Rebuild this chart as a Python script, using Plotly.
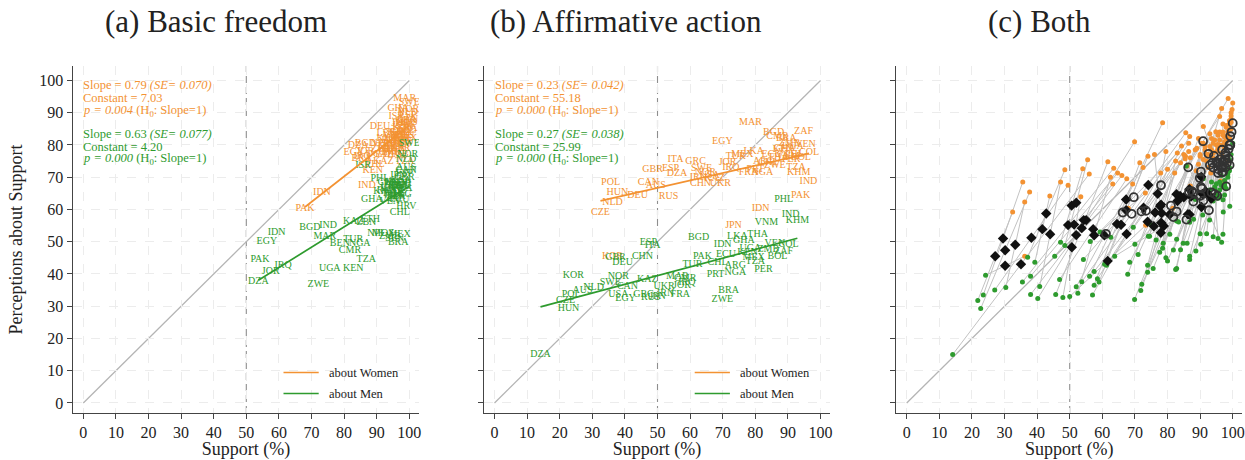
import plotly.graph_objects as go

FONT = "Liberation Serif"
ORANGE = "#f39232"
GREEN = "#2e9b2e"
INK = "#222222"

# ---------------- Basic freedom: support (%) and perceived support ----------------
bf_codes = ["DZA", "JOR", "IRQ", "PAK", "EGY", "IDN", "ZWE", "UGA", "KEN", "TZA",
            "BGD", "IND", "MAR", "BEN", "TUR", "CMR", "NGA", "KAZ", "LBN", "MEX",
            "BRA", "CHL", "HRV", "GHA", "VEN", "PHL", "ISR", "DEU", "MOZ", "ZMB",
            "SEN", "NPL", "ETH", "ZAF", "ARG", "COL", "PER", "BOL", "ECU", "USA",
            "CAN", "GBR", "FRA", "ITA", "ESP", "SWE", "NOR", "NLD", "POL", "CZE",
            "HUN", "RUS", "UKR", "CHN", "JPN", "KOR", "VNM", "THA", "KHM", "AUS"]
bf_women_support = [84.3, 86.5, 85.5, 68.0, 83.0, 73.2, 91.5, 90.0, 88.8, 98.6,
                    86.5, 87.0, 98.6, 94.5, 93.0, 94.0, 95.5, 92.0, 93.0, 99.0,
                    85.4, 97.0, 99.0, 96.6, 97.0, 89.5, 96.0, 91.0, 95.0, 96.5,
                    93.5, 91.0, 92.5, 97.5, 99.0, 98.0, 97.5, 96.0, 98.5, 98.0,
                    99.5, 99.0, 99.5, 98.5, 99.5, 100.0, 99.8, 99.5, 97.0, 98.0,
                    97.5, 95.0, 96.0, 94.0, 97.0, 98.0, 95.5, 96.0, 93.5, 99.5]
bf_women_percep = [79.7, 78.0, 76.5, 60.4, 77.5, 65.1, 78.5, 77.0, 72.0, 75.0,
                   80.5, 67.3, 94.4, 81.5, 79.5, 77.5, 79.0, 75.0, 83.5, 82.0,
                   75.7, 84.0, 86.5, 91.3, 80.0, 74.0, 88.8, 85.7, 78.0, 77.0,
                   78.5, 80.5, 77.0, 82.5, 84.5, 81.0, 79.0, 80.0, 83.0, 86.0,
                   88.0, 87.5, 85.0, 84.0, 89.0, 93.0, 91.0, 90.0, 83.0, 82.0,
                   81.0, 80.0, 81.5, 80.5, 86.5, 85.5, 83.0, 84.0, 82.0, 87.0]
bf_men_support = [53.7, 57.5, 61.3, 54.2, 56.3, 59.3, 72.1, 75.6, 82.8, 86.8,
                  69.5, 75.1, 74.1, 78.7, 82.8, 81.8, 84.8, 82.8, 86.8, 97.0,
                  96.6, 97.1, 99.1, 88.5, 94.0, 91.0, 85.8, 97.5, 92.0, 94.0,
                  95.5, 90.0, 88.0, 95.5, 97.5, 96.0, 96.0, 95.0, 97.0, 97.5,
                  99.0, 98.5, 98.0, 97.0, 98.5, 100.0, 99.5, 99.0, 95.0, 96.5,
                  96.0, 93.0, 94.5, 93.5, 96.5, 97.5, 94.5, 95.0, 92.5, 99.0]
bf_men_percep = [37.6, 40.8, 42.7, 44.5, 50.1, 53.0, 36.8, 41.7, 41.7, 44.5,
                 54.5, 55.1, 51.7, 49.5, 50.8, 47.4, 49.5, 56.4, 56.0, 52.3,
                 49.8, 59.2, 61.0, 63.2, 62.6, 69.5, 73.5, 67.5, 52.5, 51.5,
                 51.0, 52.5, 57.0, 63.5, 64.5, 66.0, 64.0, 65.0, 63.0, 69.0,
                 72.0, 70.0, 66.5, 67.0, 71.0, 80.5, 77.0, 75.5, 68.0, 67.5,
                 68.5, 66.0, 67.0, 68.5, 70.5, 68.0, 66.5, 64.5, 65.5, 73.0]

# Fitted lines (perception on support) reported for basic freedom
bf_women_slope, bf_women_se, bf_women_const, bf_women_p = 0.79, 0.070, 7.03, "0.004"
bf_men_slope, bf_men_se, bf_men_const, bf_men_p = 0.63, 0.077, 4.20, "0.000"

# ---------------- Affirmative action: support (%) and perceived support ----------------
aa_codes = ["POL", "NLD", "CZE", "HUN", "DEU", "CAN", "AUS", "GBR", "ESP", "ITA",
            "RUS", "GRC", "CHN", "NOR", "SWE", "USA", "KOR", "KAZ", "UKR", "EGY",
            "MAR", "BGD", "ZAF", "CMR", "BRA", "VEN", "FRA", "NGA", "IND", "KHM",
            "PAK", "IDN", "JPN", "PHL", "VNM", "TUR", "CHL", "PRT", "ARG", "ZWE",
            "PER", "BOL", "COL", "KEN", "MEX", "LKA", "THA", "GHA", "UGA", "TZA",
            "ZMB", "ECU", "IRN", "JOR", "IRQ", "DZA"]
aa_women_support = [35.6, 36.2, 32.5, 37.7, 43.9, 47.2, 49.5, 48.5, 54.0, 55.5,
                    53.4, 61.7, 63.2, 64.7, 63.5, 66.0, 36.2, 67.5, 69.3, 69.9,
                    78.5, 85.6, 94.8, 86.8, 89.5, 95.4, 77.9, 82.2, 96.3, 93.3,
                    93.9, 81.6, 73.3, 92.0, 90.0, 74.0, 84.0, 80.0, 82.5, 86.0,
                    91.0, 94.0, 96.5, 88.5, 76.0, 79.5, 87.0, 89.0, 91.5, 92.5,
                    90.5, 85.0, 62.5, 71.5, 72.5, 56.0]
aa_women_percep = [68.5, 62.3, 59.2, 65.4, 64.2, 68.5, 67.5, 72.3, 72.6, 75.4,
                   63.9, 74.8, 67.9, 71.3, 72.8, 70.5, 45.5, 69.5, 67.9, 81.0,
                   86.9, 83.8, 84.1, 82.6, 82.0, 80.1, 71.3, 71.3, 68.8, 71.3,
                   64.2, 60.4, 55.1, 77.0, 76.5, 76.5, 74.5, 72.5, 75.0, 73.5,
                   75.5, 76.0, 77.5, 78.5, 77.0, 78.0, 76.0, 79.0, 79.5, 73.0,
                   80.5, 77.0, 70.0, 74.5, 73.0, 71.0]
aa_men_support = [23.5, 30.4, 21.8, 22.7, 39.3, 40.8, 27.0, 37.1, 47.2, 48.5,
                  47.9, 45.7, 45.4, 38.0, 35.5, 38.0, 24.2, 46.9, 52.0, 40.2,
                  56.1, 62.6, 88.7, 58.5, 71.8, 86.0, 57.0, 73.9, 90.8, 92.9,
                  63.8, 70.0, 50.0, 88.7, 83.4, 60.7, 68.4, 67.8, 73.9, 69.9,
                  82.5, 86.8, 90.2, 77.6, 79.5, 74.5, 80.7, 76.5, 78.5, 80.0,
                  84.0, 71.0, 52.5, 57.5, 59.0, 14.1]
aa_men_percep = [33.5, 35.8, 31.8, 29.3, 43.6, 36.1, 35.0, 45.2, 49.8, 48.8,
                 32.7, 33.6, 45.5, 39.3, 37.5, 33.6, 39.6, 38.3, 36.0, 32.4,
                 39.3, 51.4, 47.1, 38.5, 34.9, 49.5, 33.5, 40.5, 58.3, 56.7,
                 45.5, 49.2, 33.0, 63.2, 56.1, 43.0, 43.6, 39.9, 42.7, 32.1,
                 41.4, 45.5, 49.2, 46.7, 45.0, 51.7, 52.3, 50.5, 48.0, 44.0,
                 47.5, 46.0, 34.0, 36.5, 37.5, 15.0]

# Fitted lines reported for affirmative action
aa_women_slope, aa_women_se, aa_women_const, aa_women_p = 0.23, 0.042, 55.18, "0.000"
aa_men_slope, aa_men_se, aa_men_const, aa_men_p = 0.27, 0.038, 25.99, "0.000"

panel_titles = ["(a) Basic freedom", "(b) Affirmative action", "(c) Both"]
ticks = [0, 10, 20, 30, 40, 50, 60, 70, 80, 90, 100]

# ---------------- layout geometry ----------------
X_RANGE = [-3.25, 103.0]
Y_RANGE = [-3.1, 104.5]
X_DOMAINS = [[0.05839, 0.33663], [0.38867, 0.66691], [0.71976, 0.99799]]
Y_DOMAIN = [0.10217, 0.85674]

fig = go.Figure()


def axis_ids(i):
    return ("x" if i == 0 else f"x{i + 1}"), ("y" if i == 0 else f"y{i + 1}")


def fit_line(xs, slope, const):
    lo, hi = min(xs), max(xs)
    return [lo, hi], [const + slope * lo, const + slope * hi]


def add_labels(i, xs, ys, codes, color):
    xa, ya = axis_ids(i)
    fig.add_trace(go.Scatter(
        x=xs, y=ys, text=codes, mode="text", xaxis=xa, yaxis=ya,
        textfont=dict(family=FONT, size=10, color=color),
        showlegend=False, hoverinfo="skip"))


def add_fit(i, xs, slope, const, color):
    xa, ya = axis_ids(i)
    lx, ly = fit_line(xs, slope, const)
    fig.add_trace(go.Scatter(
        x=lx, y=ly, mode="lines", xaxis=xa, yaxis=ya,
        line=dict(color=color, width=1.7), showlegend=False, hoverinfo="skip"))


def add_stats(i, rows):
    xa, ya = axis_ids(i)
    line_y = [98.6, 94.7, 90.6, 83.4, 79.5, 75.5]
    k = 0
    for slope, se, const, p, color in rows:
        texts = [f"Slope = {slope:.2f} <i>(SE= {se:.3f})</i>",
                 f"Constant = {const:.2f}",
                 f"<i>p = {p}</i> (H<sub>0</sub>: Slope=1)"]
        for t in texts:
            fig.add_annotation(x=-0.6, y=line_y[k], xref=xa, yref=ya, text=t,
                               showarrow=False, xanchor="left", yanchor="middle",
                               font=dict(family=FONT, size=12.5, color=color))
            k += 1


def add_legend(i):
    x_dom = X_DOMAINS[i]
    span = x_dom[1] - x_dom[0]
    x_line0 = x_dom[0] + span * (210.8 / 346.4)
    x_line1 = x_dom[0] + span * (246.0 / 346.4)
    x_text = x_dom[0] + span * (254.5 / 346.4)
    for label, color, ypx in [("about Women", ORANGE, 372.5), ("about Men", GREEN, 393.5)]:
        yp = 1 - ypx / 460
        fig.add_shape(type="line", xref="paper", yref="paper", x0=x_line0, x1=x_line1,
                      y0=yp, y1=yp, line=dict(color=color, width=1.6))
        fig.add_annotation(x=x_text, y=yp, xref="paper", yref="paper", text=label,
                           showarrow=False, xanchor="left", yanchor="middle",
                           font=dict(family=FONT, size=12.5, color=INK))


# reference lines: 45-degree line and the 50% threshold
for i in range(3):
    xa, ya = axis_ids(i)
    fig.add_shape(type="line", xref=xa, yref=ya, x0=0, y0=0, x1=100, y1=100,
                  line=dict(color="#b4b4b4", width=1.3), layer="below")
    fig.add_shape(type="line", xref=xa, yref=f"{ya} domain", x0=50, x1=50, y0=0, y1=1,
                  line=dict(color="#8e8e8e", width=1.1, dash="7px,4px"), layer="below")

# panel (a)
add_labels(0, bf_women_support, bf_women_percep, bf_codes, ORANGE)
add_labels(0, bf_men_support, bf_men_percep, bf_codes, GREEN)
add_fit(0, bf_women_support, bf_women_slope, bf_women_const, ORANGE)
add_fit(0, bf_men_support, bf_men_slope, bf_men_const, GREEN)
add_stats(0, [(bf_women_slope, bf_women_se, bf_women_const, bf_women_p, ORANGE),
              (bf_men_slope, bf_men_se, bf_men_const, bf_men_p, GREEN)])
add_legend(0)

# panel (b)
add_labels(1, aa_women_support, aa_women_percep, aa_codes, ORANGE)
add_labels(1, aa_men_support, aa_men_percep, aa_codes, GREEN)
add_fit(1, aa_women_support, aa_women_slope, aa_women_const, ORANGE)
add_fit(1, aa_men_support, aa_men_slope, aa_men_const, GREEN)
add_stats(1, [(aa_women_slope, aa_women_se, aa_women_const, aa_women_p, ORANGE),
              (aa_men_slope, aa_men_se, aa_men_const, aa_men_p, GREEN)])
add_legend(1)


# panel (c): women and men linked through the overall (mean) position
def mean_pair(a, b):
    return [(u + v) / 2 for u, v in zip(a, b)]


link_x, link_y = [], []
for wx, wy, mx, my in list(zip(bf_women_support, bf_women_percep, bf_men_support, bf_men_percep)) + \
        list(zip(aa_women_support, aa_women_percep, aa_men_support, aa_men_percep)):
    link_x += [wx, mx, None]
    link_y += [wy, my, None]

fig.add_trace(go.Scatter(x=link_x, y=link_y, mode="lines", xaxis="x3", yaxis="y3",
                         line=dict(color="#c2c2c2", width=1), showlegend=False, hoverinfo="skip"))
fig.add_trace(go.Scatter(x=bf_women_support + aa_women_support, y=bf_women_percep + aa_women_percep,
                         mode="markers", xaxis="x3", yaxis="y3",
                         marker=dict(color=ORANGE, size=5, line=dict(width=0)),
                         showlegend=False, hoverinfo="skip"))
fig.add_trace(go.Scatter(x=bf_men_support + aa_men_support, y=bf_men_percep + aa_men_percep,
                         mode="markers", xaxis="x3", yaxis="y3",
                         marker=dict(color=GREEN, size=5, line=dict(width=0)),
                         showlegend=False, hoverinfo="skip"))
fig.add_trace(go.Scatter(x=mean_pair(aa_women_support, aa_men_support),
                         y=mean_pair(aa_women_percep, aa_men_percep),
                         mode="markers", xaxis="x3", yaxis="y3",
                         marker=dict(color="#111111", size=8, symbol="diamond"),
                         showlegend=False, hoverinfo="skip"))
fig.add_trace(go.Scatter(x=mean_pair(bf_women_support, bf_men_support),
                         y=mean_pair(bf_women_percep, bf_men_percep),
                         mode="markers", xaxis="x3", yaxis="y3",
                         marker=dict(color="#333333", size=8, symbol="circle-open",
                                     line=dict(width=1.8, color="#333333")),
                         showlegend=False, hoverinfo="skip"))

# panel titles
for i, (t, cx) in enumerate(zip(panel_titles, [216, 626, 1039])):
    fig.add_annotation(x=cx / 1245, y=1 - 22 / 460, xref="paper", yref="paper", text=t,
                       showarrow=False, xanchor="center", yanchor="middle",
                       font=dict(family=FONT, size=31, color=INK))

common = dict(tickvals=ticks, ticks="outside", ticklen=5, tickwidth=1.2, tickcolor="#444",
              showline=True, linecolor="#444", linewidth=1.3, mirror=False,
              showgrid=True, gridcolor="#ececec", gridwidth=1, griddash="dash",
              zeroline=False, automargin=False,
              tickfont=dict(family=FONT, size=16, color=INK))

layout = dict(width=1245, height=460, margin=dict(l=0, r=0, t=0, b=0),
              paper_bgcolor="white", plot_bgcolor="white", showlegend=False)
for i in range(3):
    xk = "xaxis" if i == 0 else f"xaxis{i + 1}"
    yk = "yaxis" if i == 0 else f"yaxis{i + 1}"
    xa, ya = axis_ids(i)
    layout[xk] = dict(common, domain=X_DOMAINS[i], range=X_RANGE, anchor=ya,
                      title=dict(text="Support (%)", standoff=4,
                                 font=dict(family=FONT, size=18, color=INK)))
    yaxis = dict(common, domain=Y_DOMAIN, range=Y_RANGE, anchor=xa,
                 showticklabels=(i == 0))
    if i == 0:
        yaxis["title"] = dict(text="Perceptions about Support", standoff=12,
                              font=dict(family=FONT, size=18, color=INK))
    layout[yk] = yaxis

fig.update_layout(**layout)
fig.write_html("out.html")
